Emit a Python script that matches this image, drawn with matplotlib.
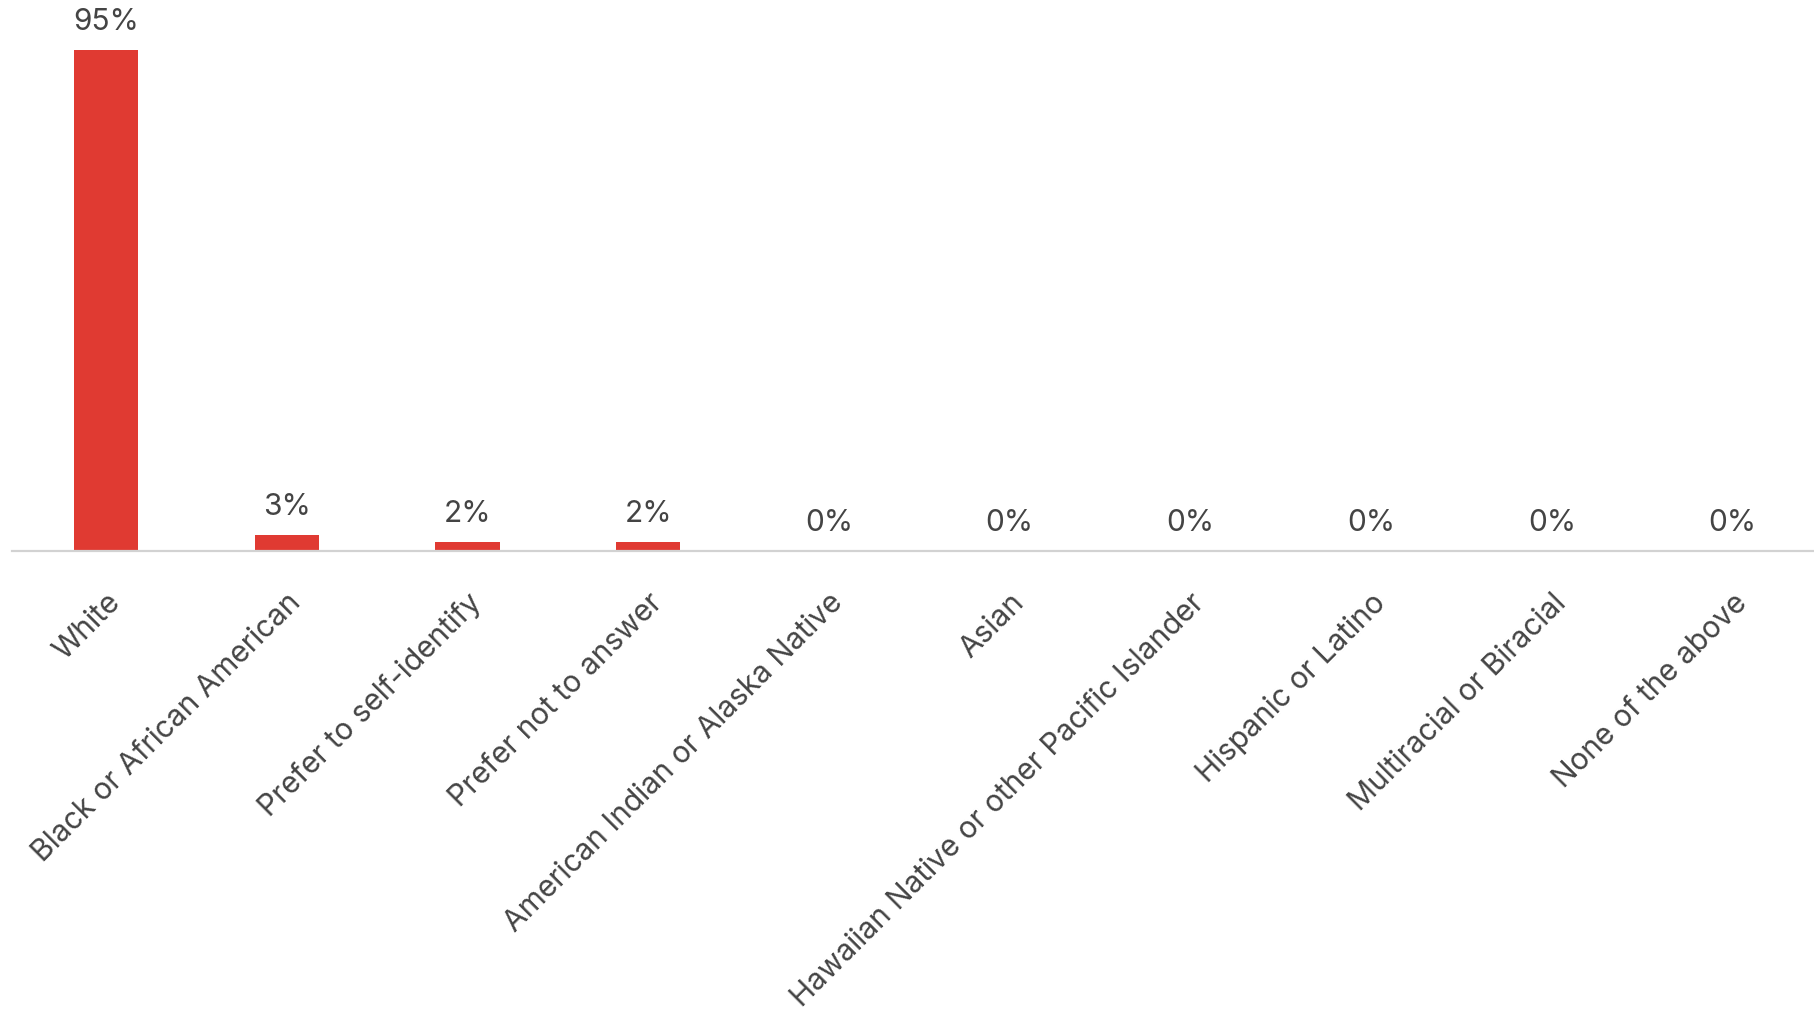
import matplotlib.pyplot as plt
import matplotlib.transforms as mtransforms

# ── Daten ────────────────────────────────────────────────────────────────────
categories = [
    "White",
    "Black or African American",
    "Prefer to self-identify",
    "Prefer not to answer",
    "American Indian or Alaska Native",
    "Asian",
    "Hawaiian Native or other Pacific Islander",
    "Hispanic or Latino",
    "Multiracial or Biracial",
    "None of the above",
]
shares = [95, 3, 1.7, 1.7, 0, 0, 0, 0, 0, 0]

bar_color = "#e03a32"
text_color = "#444444"

plt.rcParams["font.family"] = ["Inter", "DejaVu Sans"]

# ── Figure & Axes ─────────────────────────────────────────────────────────────
W, H = 1814, 1017
fig = plt.figure(figsize=(W / 100, H / 100), dpi=100)
fig.patch.set_facecolor("white")
ax = fig.add_axes([12 / W, (H - 551) / H, (W - 12) / W, 527 / H])
ax.set_facecolor("none")

x = list(range(len(categories)))
ax.bar(x, shares, width=0.355, color=bar_color, zorder=2)

# Werte über den Balken
for xi, v in zip(x, shares):
    ax.annotate(f"{v:.0f}%", xy=(xi, v), xytext=(0, 14.5),
                textcoords="offset points", ha="center", va="baseline",
                fontsize=21.5, color=text_color)

ax.set_xlim(-0.52, 9.45)
ax.set_ylim(0, 100)

for side in ["top", "right", "left"]:
    ax.spines[side].set_visible(False)
ax.spines["bottom"].set_color("#d2d2d2")
ax.spines["bottom"].set_linewidth(1.6)
ax.set_yticks([])

ax.set_xticks(x)
ax.set_xticklabels(categories, rotation=45, ha="right", va="top",
                   rotation_mode="anchor", fontsize=21.5, color=text_color)
ax.tick_params(axis="x", length=0, pad=27)
shift = mtransforms.ScaledTranslation(0, 0, fig.dpi_scale_trans)
for lbl in ax.get_xticklabels():
    lbl.set_transform(lbl.get_transform() + shift)

fig.savefig("out.png", dpi=100)
